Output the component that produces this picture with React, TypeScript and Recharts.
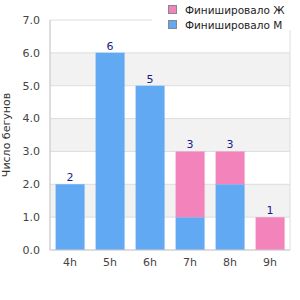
import React from "react";
import { BarChart, Bar, XAxis, YAxis, CartesianGrid, LabelList } from "recharts";

const hours = ["4h", "5h", "6h", "7h", "8h", "9h"];
const men = [2, 6, 5, 1, 2, 0];
const women = [0, 0, 0, 2, 1, 1];
const yTicks = [0, 1, 2, 3, 4, 5, 6, 7];

const seriesNames = { women: "Финишировало Ж", men: "Финишировало М" };
const colors = { women: "#f283bb", men: "#62a9f4" };

const rows = hours.map((h, i) => ({
  hour: h,
  men: men[i],
  women: women[i],
  total: men[i] + women[i],
}));

const font = "'DejaVu Sans', sans-serif";

const YLabel = (props: any) => {
  const { viewBox } = props;
  const x = viewBox.x + 6;
  const y = viewBox.y + viewBox.height / 2;
  return (
    <text
      x={x}
      y={y}
      transform={`rotate(-90, ${x}, ${y})`}
      textAnchor="middle"
      dominantBaseline="central"
      fontSize={11}
      fill="#333"
      fontFamily={font}
    >
      Число бегунов
    </text>
  );
};

// total goes on whichever segment is on top of the stack
const totalOnMen = (d: any) => (d.women === 0 ? d.total : undefined);
const totalOnWomen = (d: any) => (d.women > 0 ? d.total : undefined);

const App: React.FunctionComponent = () => {
  const legend = [
    { key: "women", label: seriesNames.women, color: colors.women },
    { key: "men", label: seriesNames.men, color: colors.men },
  ];
  const labelProps = { position: "top" as const, offset: 3, fill: "#1a1a8a", fontSize: 11, fontFamily: font };
  return (
    <div style={{ position: "fixed", left: 0, top: 0, width: 300, height: 300, background: "#fff" }}>
      <BarChart
        width={300}
        height={300}
        data={rows}
        margin={{ top: 20, right: 10, bottom: 20, left: 0 }}
        barCategoryGap="14%"
        style={{ fontFamily: font }}
      >
        <CartesianGrid
          stroke="#dddddd"
          horizontalFill={["#ffffff", "#f2f2f2"]}
          verticalCoordinatesGenerator={({ offset }: any) => [
            offset.left,
            offset.left + offset.width,
          ]}
        />
        <XAxis
          dataKey="hour"
          tickLine={false}
          axisLine={{ stroke: "#cccccc" }}
          tick={{ fontSize: 11, fill: "#444", fontFamily: font }}
          height={30}
        />
        <YAxis
          width={50}
          domain={[0, 7]}
          ticks={yTicks}
          tickFormatter={(v: number) => v.toFixed(1)}
          tickLine={false}
          tickMargin={4}
          axisLine={{ stroke: "#cccccc" }}
          tick={{ fontSize: 11, fill: "#444", fontFamily: font }}
          label={<YLabel />}
        />
        <Bar dataKey="men" stackId="a" fill={colors.men} isAnimationActive={false}>
          <LabelList dataKey={totalOnMen} {...labelProps} />
        </Bar>
        <Bar dataKey="women" stackId="a" fill={colors.women} isAnimationActive={false}>
          <LabelList dataKey={totalOnWomen} {...labelProps} />
        </Bar>
      </BarChart>
      <div
        style={{
          position: "absolute",
          left: 152,
          top: 0,
          width: 148,
          height: 30,
          background: "#fff",
          fontFamily: font,
          fontSize: 10.5,
          color: "#222",
        }}
      >
        {legend.map((item, i) => (
          <div
            key={item.key}
            style={{ position: "absolute", left: 0, top: 3 + i * 15, height: 13, display: "flex", alignItems: "center" }}
          >
            <span
              style={{
                display: "inline-block",
                marginLeft: 16,
                width: 7,
                height: 7,
                background: item.color,
                border: "1px solid #888",
              }}
            />
            <span style={{ marginLeft: 8, whiteSpace: "nowrap" }}>{item.label}</span>
          </div>
        ))}
      </div>
    </div>
  );
};

export default App;
